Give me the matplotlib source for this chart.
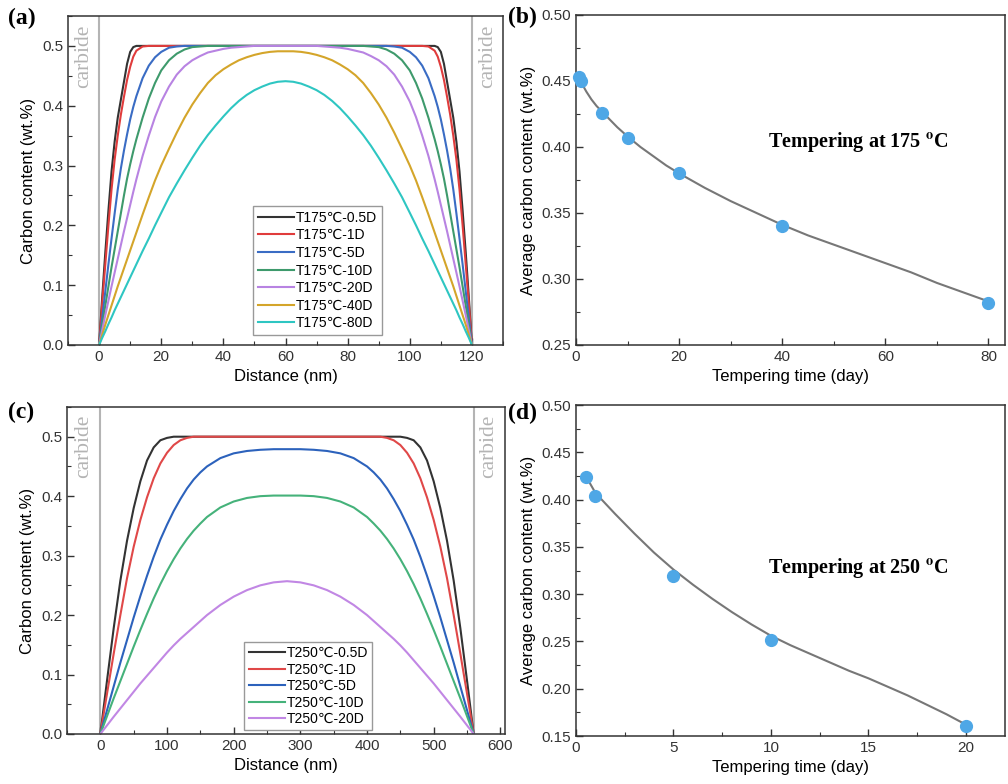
import numpy as np
import matplotlib.pyplot as plt
from matplotlib.ticker import MultipleLocator, FormatStrFormatter

plt.rcParams['font.family'] = ['Liberation Sans', 'DejaVu Sans']
plt.rcParams['mathtext.fontset'] = 'stix'

# ---- panel (a): carbon profiles at 175 C (half profile, symmetric about 60 nm)
x_a_half = [0, 1, 2, 3, 4, 5, 6, 7, 8, 9, 10, 11, 12, 14, 16, 18,
            20, 22.5, 25, 27.5, 30, 32.5, 35, 37.5, 40, 42.5, 45, 47.5, 50, 52.5, 55, 57.5, 60]
c175_05d = [0, .08, .155, .225, .29, .34, .38, .41, .44, .47, .49, .498, .5, .5, .5, .5,
            .5, .5, .5, .5, .5, .5, .5, .5, .5, .5, .5, .5, .5, .5, .5, .5, .5]
c175_1d = [0, .07, .135, .2, .26, .31, .35, .385, .415, .443, .465, .482, .492, .499, .5, .5,
           .5, .5, .5, .5, .5, .5, .5, .5, .5, .5, .5, .5, .5, .5, .5, .5, .5]
c175_5d = [0, .045, .09, .135, .178, .22, .26, .295, .325, .352, .377, .398, .416, .446, .467, .481,
           .49, .497, .499, .5, .5, .5, .5, .5, .5, .5, .5, .5, .5, .5, .5, .5, .5]
c175_10d = [0, .033, .066, .098, .13, .16, .19, .22, .25, .278, .302, .324, .344, .38, .412, .438,
            .459, .476, .487, .494, .498, .499, .5, .5, .5, .5, .5, .5, .5, .5, .5, .5, .5]
c175_20d = [0, .025, .05, .074, .098, .121, .144, .167, .19, .212, .234, .256, .277, .316, .35, .381,
            .407, .432, .452, .466, .476, .483, .489, .492, .495, .497, .498, .499, .5, .5, .5, .5, .5]
c175_40d = [0, .017, .034, .05, .066, .082, .098, .113, .128, .143, .158, .173, .188, .218, .247, .275,
            .3, .328, .355, .38, .402, .421, .438, .451, .461, .469, .476, .481, .485, .488, .49, .491, .491]
c175_80d = [0, .012, .023, .035, .046, .058, .069, .08, .091, .102, .113, .124, .135, .157, .178, .2,
            .221, .247, .27, .292, .313, .333, .351, .367, .382, .396, .408, .418, .426, .432, .437, .44, .441]
labels_175 = ['T175℃-0.5D', 'T175℃-1D', 'T175℃-5D', 'T175℃-10D', 'T175℃-20D', 'T175℃-40D', 'T175℃-80D']
colors_175 = ['#333333', '#e03c3c', '#3a6cc4', '#3e9a6c', '#b883e2', '#d4a52a', '#2ec6c2']

# ---- panel (c): carbon profiles at 250 C (half profile, symmetric about 280 nm)
x_c_half = [0, 10, 20, 30, 40, 50, 60, 70, 80, 90, 100, 110, 120, 130, 140, 150, 160, 180, 200, 220, 240, 260, 280]
c250_05d = [0, .09, .178, .258, .325, .38, .425, .46, .482, .494, .498, .5, .5, .5, .5, .5, .5, .5, .5, .5, .5, .5, .5]
c250_1d = [0, .068, .135, .2, .262, .315, .36, .398, .43, .455, .473, .486, .494, .498, .5, .5, .5, .5, .5, .5, .5, .5, .5]
c250_5d = [0, .04, .08, .12, .158, .196, .232, .266, .298, .327, .352, .375, .395, .413, .428, .44, .45, .464, .472, .476, .478, .479, .479]
c250_10d = [0, .03, .06, .089, .118, .147, .175, .202, .228, .252, .274, .294, .312, .328, .342, .354, .365, .381, .391, .397, .4, .401, .401]
c250_20d = [0, .0145, .029, .043, .057, .071, .085, .098, .111, .124, .137, .149, .16, .17, .18, .19, .2, .217, .231, .242, .25, .255, .257]
labels_250 = ['T250℃-0.5D', 'T250℃-1D', 'T250℃-5D', 'T250℃-10D', 'T250℃-20D']
colors_250 = ['#333333', '#e04848', '#2c62bc', '#45b27a', '#c187e4']

# ---- panel (b): average carbon vs time at 175 C
days_175 = [0.5, 1, 5, 10, 20, 40, 80]
avg_175 = [0.453, 0.450, 0.426, 0.407, 0.380, 0.340, 0.282]
fit_t_175 = [0.3, 0.5, 1, 2, 3, 4, 5, 6, 8, 10, 12.5, 15, 17.5, 20, 25, 30, 35, 40, 45, 50, 55, 60, 65, 70, 75, 80]
fit_c_175 = [0.456, 0.453, 0.449, 0.442, 0.436, 0.431, 0.427, 0.423, 0.415, 0.408, 0.400, 0.393, 0.386, 0.380,
             0.369, 0.359, 0.350, 0.341, 0.333, 0.326, 0.319, 0.312, 0.305, 0.297, 0.290, 0.283]

# ---- panel (d): average carbon vs time at 250 C
days_250 = [0.5, 1, 5, 10, 20]
avg_250 = [0.424, 0.404, 0.319, 0.252, 0.161]
fit_t_250 = [0.5, 1, 2, 3, 4, 5, 6, 7, 8, 9, 10, 11, 12, 13, 14, 15, 16, 17, 18, 19, 20]
fit_c_250 = [0.425, 0.407, 0.385, 0.364, 0.344, 0.326, 0.310, 0.295, 0.281, 0.268, 0.256, 0.246, 0.237,
             0.228, 0.219, 0.211, 0.202, 0.193, 0.183, 0.173, 0.162]


def full_profile(x_half, c_half, length):
    x_half = np.asarray(x_half, float)
    c_half = np.asarray(c_half, float)
    x = np.concatenate([x_half, length - x_half[-2::-1]])
    c = np.concatenate([c_half, c_half[-2::-1]])
    return x, c


def style_axes(ax):
    for s in ax.spines.values():
        s.set_linewidth(1.1)
        s.set_color('#333333')
    ax.tick_params(which='both', direction='in', labelsize=11, colors='#333333')
    ax.tick_params(which='major', length=5, width=1)
    ax.tick_params(which='minor', length=3, width=0.8)


fig = plt.figure(figsize=(10.08, 7.84), dpi=100)
ax_a = fig.add_axes([0.0675, 0.560, 0.4315, 0.4196])
ax_b = fig.add_axes([0.5714, 0.560, 0.4256, 0.4209])
ax_c = fig.add_axes([0.0665, 0.0638, 0.4345, 0.4171])
ax_d = fig.add_axes([0.5714, 0.0612, 0.4256, 0.4222])

carbide_gray = '#b4b4b4'

# (a)
for c_half, lab, col in zip([c175_05d, c175_1d, c175_5d, c175_10d, c175_20d, c175_40d, c175_80d], labels_175, colors_175):
    x, c = full_profile(x_a_half, c_half, 120)
    ax_a.plot(x, c, color=col, lw=1.5, label=lab, solid_joinstyle='round')
ax_a.axvline(0, color=carbide_gray, lw=1.5, zorder=0)
ax_a.axvline(120, color=carbide_gray, lw=1.5, zorder=0)
ax_a.text(-4.9, 0.483, 'carbide', rotation=90, ha='center', va='center', color=carbide_gray,
          fontsize=15.5, family='Liberation Serif')
ax_a.text(124.9, 0.483, 'carbide', rotation=90, ha='center', va='center', color=carbide_gray,
          fontsize=15.5, family='Liberation Serif')
ax_a.set_xlim(-10, 130)
ax_a.set_ylim(0, 0.55)
ax_a.xaxis.set_major_locator(MultipleLocator(20))
ax_a.xaxis.set_minor_locator(MultipleLocator(10))
ax_a.yaxis.set_major_locator(MultipleLocator(0.1))
ax_a.yaxis.set_minor_locator(MultipleLocator(0.05))
ax_a.yaxis.set_major_formatter(FormatStrFormatter('%.1f'))
ax_a.set_xlabel('Distance (nm)', fontsize=12)
ax_a.set_ylabel('Carbon content (wt.%)', fontsize=12)
ax_a.legend(loc='lower left', bbox_to_anchor=(0.425, 0.03), borderaxespad=0, fontsize=10,
            labelspacing=0.26, handlelength=2.6, handletextpad=0.15, borderpad=0.35,
            fancybox=False, framealpha=1, edgecolor='#999999')
style_axes(ax_a)

# (c)
for c_half, lab, col in zip([c250_05d, c250_1d, c250_5d, c250_10d, c250_20d], labels_250, colors_250):
    x, c = full_profile(x_c_half, c_half, 560)
    ax_c.plot(x, c, color=col, lw=1.5, label=lab, solid_joinstyle='round')
ax_c.axvline(0, color=carbide_gray, lw=1.5, zorder=0)
ax_c.axvline(560, color=carbide_gray, lw=1.5, zorder=0)
ax_c.text(-25, 0.483, 'carbide', rotation=90, ha='center', va='center', color=carbide_gray,
          fontsize=15.5, family='Liberation Serif')
ax_c.text(582, 0.483, 'carbide', rotation=90, ha='center', va='center', color=carbide_gray,
          fontsize=15.5, family='Liberation Serif')
ax_c.set_xlim(-50, 607)
ax_c.set_ylim(0, 0.55)
ax_c.xaxis.set_major_locator(MultipleLocator(100))
ax_c.xaxis.set_minor_locator(MultipleLocator(50))
ax_c.yaxis.set_major_locator(MultipleLocator(0.1))
ax_c.yaxis.set_minor_locator(MultipleLocator(0.05))
ax_c.yaxis.set_major_formatter(FormatStrFormatter('%.1f'))
ax_c.set_xlabel('Distance (nm)', fontsize=12)
ax_c.set_ylabel('Carbon content (wt.%)', fontsize=12)
ax_c.legend(loc='lower left', bbox_to_anchor=(0.405, 0.012), borderaxespad=0, fontsize=10,
            labelspacing=0.18, handlelength=2.6, handletextpad=0.15, borderpad=0.3,
            fancybox=False, framealpha=1, edgecolor='#999999')
style_axes(ax_c)

# (b)
ax_b.plot(fit_t_175, fit_c_175, color='#777777', lw=1.5, zorder=2)
ax_b.plot(days_175, avg_175, 'o', color='#4ea7e6', ms=8.5, zorder=3, clip_on=False)
ax_b.set_xlim(0, 83.2)
ax_b.set_ylim(0.25, 0.50)
ax_b.xaxis.set_major_locator(MultipleLocator(20))
ax_b.xaxis.set_minor_locator(MultipleLocator(10))
ax_b.yaxis.set_major_locator(MultipleLocator(0.05))
ax_b.yaxis.set_minor_locator(MultipleLocator(0.025))
ax_b.yaxis.set_major_formatter(FormatStrFormatter('%.2f'))
ax_b.set_xlabel('Tempering time (day)', fontsize=12)
ax_b.set_ylabel('Average carbon content (wt.%)', fontsize=12)
style_axes(ax_b)

# (d)
ax_d.plot(fit_t_250, fit_c_250, color='#777777', lw=1.5, zorder=2)
ax_d.plot(days_250, avg_250, 'o', color='#4ea7e6', ms=8.5, zorder=3, clip_on=False)
ax_d.set_xlim(0, 22)
ax_d.set_ylim(0.15, 0.50)
ax_d.xaxis.set_major_locator(MultipleLocator(5))
ax_d.xaxis.set_minor_locator(MultipleLocator(2.5))
ax_d.yaxis.set_major_locator(MultipleLocator(0.05))
ax_d.yaxis.set_minor_locator(MultipleLocator(0.025))
ax_d.yaxis.set_major_formatter(FormatStrFormatter('%.2f'))
ax_d.set_xlabel('Tempering time (day)', fontsize=12)
ax_d.set_ylabel('Average carbon content (wt.%)', fontsize=12)
style_axes(ax_d)

# annotations
fig.text(0.851, 0.819, r'Tempering at 175 $^{\mathbf{o}}$C', ha='center', va='center',
         fontsize=14.5, fontweight='bold', family='Liberation Serif')
fig.text(0.851, 0.2755, r'Tempering at 250 $^{\mathbf{o}}$C', ha='center', va='center',
         fontsize=14.5, fontweight='bold', family='Liberation Serif')
for lbl, xx, yy in [('(a)', 8, 18), ('(b)', 508, 17), ('(c)', 8, 412), ('(d)', 508, 413)]:
    fig.text(xx / 1008, 1 - yy / 784, lbl, ha='left', va='center', fontsize=17,
             fontweight='bold', family='Liberation Serif')

plt.savefig('out.png', dpi=100)
